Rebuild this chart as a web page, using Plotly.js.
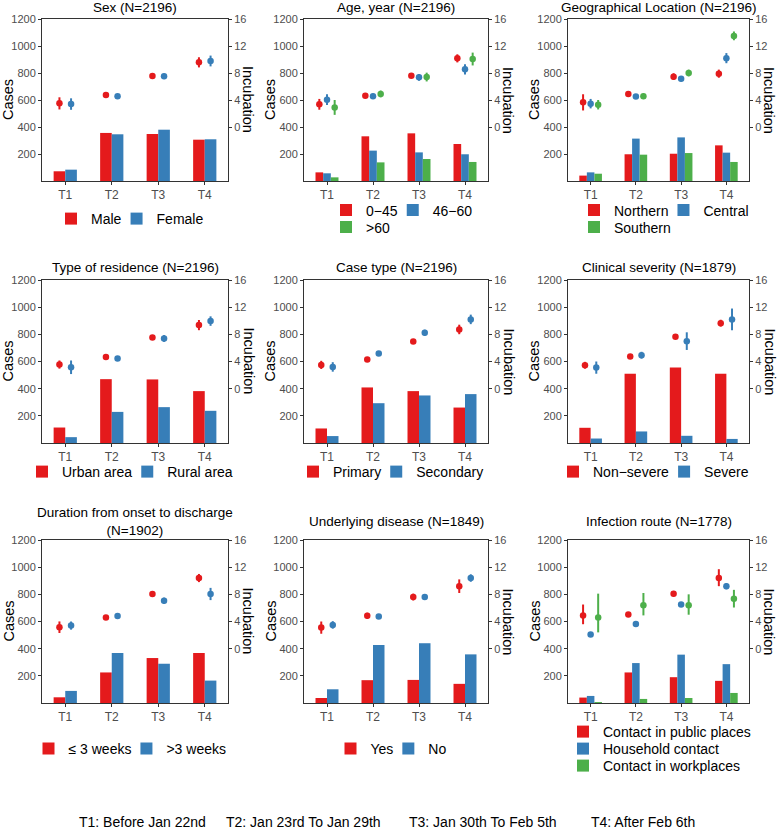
<!DOCTYPE html>
<html><head><meta charset="utf-8">
<script src="https://cdn.plot.ly/plotly-3.0.1.min.js"></script>
<style>body{margin:0;background:#fff;} #chart{width:780px;height:830px;}</style>
</head><body><div id="chart"></div>
<script>
// ---------------- DATA ----------------
const periods = ['T1', 'T2', 'T3', 'T4'];
const periodNotes = ['T1: Before Jan 22nd', 'T2: Jan 23rd To Jan 29th', 'T3: Jan 30th To Feb 5th', 'T4: After Feb 6th'];

const sexTitle = 'Sex (N=2196)';
const sexGroups = ['Male', 'Female'];
const sexCases = [[72, 356, 348, 306], [84, 346, 380, 309]];
const sexInc = [[3.5, 4.74, 7.56, 9.58], [3.4, 4.54, 7.5, 9.78]];
const sexErr = [[0.9, 0.3, 0.4, 0.75], [0.85, 0.25, 0.4, 0.8]];

const ageTitle = 'Age, year (N=2196)';
const ageGroups = ['0\u221245', '46\u221260', '>60'];
const ageCases = [[64, 331, 353, 274], [57, 225, 212, 198], [27, 138, 163, 141]];
const ageInc = [[3.36, 4.64, 7.6, 10.17], [4.05, 4.54, 7.36, 8.54], [2.9, 4.9, 7.4, 10.07]];
const ageErr = [[0.8, 0.2, 0.35, 0.6], [0.8, 0.4, 0.5, 0.75], [1.1, 0.5, 0.65, 0.95]];

const geoTitle = 'Geographical Location (N=2196)';
const geoGroups = ['Northern', 'Central', 'Southern'];
const geoCases = [[40, 198, 202, 264], [64, 314, 323, 210], [54, 195, 207, 141]];
const geoInc = [[3.65, 4.9, 7.46, 7.9], [3.46, 4.5, 7.16, 10.2], [3.3, 4.54, 8.0, 13.5]];
const geoErr = [[1.2, 0.35, 0.5, 0.6], [0.7, 0.3, 0.4, 0.75], [0.7, 0.4, 0.5, 0.65]];

const resTitle = 'Type of residence (N=2196)';
const resGroups = ['Urban area', 'Rural area'];
const resCases = [[114, 470, 468, 382], [43, 229, 264, 237]];
const resInc = [[3.55, 4.68, 7.54, 9.36], [3.15, 4.43, 7.39, 9.95]];
const resErr = [[0.6, 0.2, 0.3, 0.75], [1.0, 0.35, 0.5, 0.7]];

const typeTitle = 'Case type (N=2196)';
const typeGroups = ['Primary', 'Secondary'];
const typeCases = [[107, 409, 382, 261], [51, 293, 350, 360]];
const typeInc = [[3.5, 4.29, 6.95, 8.72], [3.2, 5.17, 8.23, 10.2]];
const typeErr = [[0.6, 0.15, 0.35, 0.7], [0.7, 0.35, 0.45, 0.7]];

const sevTitle = 'Clinical severity (N=1879)';
const sevGroups = ['Non\u2212severe', 'Severe'];
const sevCases = [[112, 510, 556, 510], [33, 85, 53, 30]];
const sevInc = [[3.45, 4.73, 7.64, 9.65], [3.1, 4.93, 7.0, 10.2]];
const sevErr = [[0.5, 0.15, 0.25, 0.5], [0.9, 0.5, 1.3, 1.6]];

const durTitle = 'Duration from onset to discharge<br>(N=1902)';
const durGroups = ['\u2264 3 weeks', '>3 weeks'];
const durCases = [[42, 225, 331, 368], [89, 368, 289, 165]];
const durInc = [[3.16, 4.6, 8.05, 10.4], [3.4, 4.8, 7.06, 8.05]];
const durErr = [[0.85, 0.3, 0.4, 0.6], [0.6, 0.25, 0.45, 0.9]];

const disTitle = 'Underlying disease (N=1849)';
const disGroups = ['Yes', 'No'];
const disCases = [[37, 168, 170, 141], [101, 427, 440, 358]];
const disInc = [[3.1, 4.84, 7.6, 9.2], [3.5, 4.74, 7.6, 10.4]];
const disErr = [[0.9, 0.45, 0.5, 1.0], [0.55, 0.25, 0.3, 0.55]];

const routeTitle = 'Infection route (N=1778)';
const routeGroups = ['Contact in public places', 'Household contact', 'Contact in workplaces'];
const routeCases = [[40, 225, 190, 163], [52, 294, 356, 286], [7, 30, 37, 74]];
const routeInc = [[4.9, 5.04, 8.1, 10.4], [2.07, 3.65, 6.5, 9.2], [4.6, 6.4, 6.4, 7.36]];
const routeErrUp = [[1.6, 0.35, 0.4, 1.3], [0.15, 0.15, 0.25, 0.45], [3.5, 1.8, 1.6, 1.3]];
const routeErrDown = [[1.3, 0.35, 0.4, 1.2], [0.15, 0.15, 0.25, 0.45], [2.2, 1.5, 1.4, 1.3]];

const casesTicks = [200, 400, 600, 800, 1000, 1200];
const incTicks = [0, 4, 8, 12, 16];

// ---------------- PANEL TABLE ----------------
const panels = [
  {title: sexTitle, groups: sexGroups, cases: sexCases, inc: sexInc, up: sexErr, down: sexErr},
  {title: ageTitle, groups: ageGroups, cases: ageCases, inc: ageInc, up: ageErr, down: ageErr},
  {title: geoTitle, groups: geoGroups, cases: geoCases, inc: geoInc, up: geoErr, down: geoErr},
  {title: resTitle, groups: resGroups, cases: resCases, inc: resInc, up: resErr, down: resErr},
  {title: typeTitle, groups: typeGroups, cases: typeCases, inc: typeInc, up: typeErr, down: typeErr},
  {title: sevTitle, groups: sevGroups, cases: sevCases, inc: sevInc, up: sevErr, down: sevErr},
  {title: durTitle, groups: durGroups, cases: durCases, inc: durInc, up: durErr, down: durErr},
  {title: disTitle, groups: disGroups, cases: disCases, inc: disInc, up: disErr, down: disErr},
  {title: routeTitle, groups: routeGroups, cases: routeCases, inc: routeInc, up: routeErrUp, down: routeErrDown}
];

// ---------------- LAYOUT (pixels) ----------------
const W = 780, H = 830;
const colL = [42, 304, 568], colR = [228, 488, 749];
const rowT = [19, 280, 540], rowB = [181, 443, 703];
const titleY = [7, 267, 521];
const legendY = [219, 472, 749];
// legend rows per panel: each inner list is one row of entries (group indices)
const legendRows = [[[0, 1]], [[0, 1], [2]], [[0, 1], [2]], [[0, 1]], [[0, 1]], [[0, 1]], [[0, 1]], [[0, 1]], [[0], [1], [2]]];
const legendLeft = {1: 336, 2: 584, 8: 573};
const legendRowGap = 17;
const colors = ['#E41A1C', '#377EB8', '#4DAF4A'];
const FONT = 'Liberation Sans, Arial, Helvetica, sans-serif';
const axisLine = '#333333';
const tickGrey = '#4d4d4d';

const px = v => v / W;
const py = v => 1 - v / H;
const sfx = n => (n === 1 ? '' : String(n));

const traces = [];
const layout = {
  width: W, height: H,
  margin: {l: 0, r: 0, t: 0, b: 0},
  paper_bgcolor: '#ffffff', plot_bgcolor: '#ffffff',
  font: {family: FONT, color: '#000'},
  barmode: 'group', bargap: 0.5, bargroupgap: 0,
  scattermode: 'group', scattergap: 0.5,
  showlegend: true,
  annotations: []
};

let legendCount = 0;
function newLegend(cfg) {
  legendCount += 1;
  const id = 'legend' + sfx(legendCount);
  layout[id] = Object.assign({
    font: {family: FONT, size: 14, color: '#000'},
    bgcolor: 'rgba(0,0,0,0)', borderwidth: 0,
    itemclick: false, itemdoubleclick: false,
    orientation: 'h', yanchor: 'middle', tracegroupgap: 0,
    indentation: -10
  }, cfg);
  return id;
}

panels.forEach((p, i) => {
  const r = Math.floor(i / 3), c = i % 3;
  const xi = i + 1, yi = i + 1, y2i = i + 10;
  const xName = 'x' + sfx(xi), yName = 'y' + sfx(yi), y2Name = 'y' + y2i;
  const cx = (colL[c] + colR[c]) / 2;
  const cy = (rowT[r] + rowB[r]) / 2;

  layout['xaxis' + sfx(xi)] = {
    domain: [px(colL[c]), px(colR[c])], anchor: yName,
    type: 'category', range: [-0.5, 3.5],
    showline: true, mirror: true, linecolor: axisLine, linewidth: 1,
    ticks: 'outside', ticklen: 3, tickcolor: axisLine,
    tickfont: {family: FONT, size: 12, color: tickGrey},
    showgrid: false, zeroline: false, fixedrange: true
  };
  layout['yaxis' + sfx(yi)] = {
    domain: [py(rowB[r]), py(rowT[r])], anchor: xName,
    range: [0, 1200], tickvals: casesTicks,
    showline: true, linecolor: axisLine, linewidth: 1,
    ticks: 'outside', ticklen: 3, tickcolor: axisLine,
    tickfont: {family: FONT, size: 11, color: tickGrey},
    showgrid: false, zeroline: false, fixedrange: true
  };
  layout['yaxis' + y2i] = {
    overlaying: yName, side: 'right', anchor: xName,
    range: [-8, 16], tickvals: incTicks,
    showline: true, linecolor: axisLine, linewidth: 1,
    ticks: 'outside', ticklen: 3, tickcolor: axisLine,
    tickfont: {family: FONT, size: 11, color: tickGrey},
    showgrid: false, zeroline: false, fixedrange: true
  };

  // legends (one plotly legend per visual row)
  const rows = legendRows[i];
  const legendOf = [];
  rows.forEach((row, ri) => {
    const yc = legendY[r] + (ri - (rows.length - 1) / 2) * legendRowGap;
    const cfg = rows.length === 1
      ? {x: px(cx), xanchor: 'center', y: py(yc)}
      : {x: px(legendLeft[i]), xanchor: 'left', y: py(yc)};
    const id = newLegend(cfg);
    row.forEach(k => { legendOf[k] = id; });
  });

  p.groups.forEach((g, k) => {
    traces.push({
      type: 'bar', x: periods, y: p.cases[k], name: g,
      xaxis: xName, yaxis: yName,
      marker: {color: colors[k], line: {width: 0}},
      legend: legendOf[k], showlegend: true, hoverinfo: 'skip'
    });
  });
  p.groups.forEach((g, k) => {
    traces.push({
      type: 'scatter', mode: 'markers', x: periods, y: p.inc[k], name: g,
      xaxis: xName, yaxis: y2Name,
      marker: {color: colors[k], size: 6.5},
      error_y: {type: 'data', symmetric: false, array: p.up[k], arrayminus: p.down[k],
                color: colors[k], thickness: 2, width: 0},
      showlegend: false, hoverinfo: 'skip'
    });
  });

  // titles
  layout.annotations.push({
    text: p.title, xref: 'paper', yref: 'paper', x: px(cx), y: py(titleY[r]),
    xanchor: 'center', yanchor: 'middle', showarrow: false,
    font: {family: FONT, size: 13.5, color: '#000'}
  });
  layout.annotations.push({
    text: 'Cases', xref: 'paper', yref: 'paper', x: px(colL[c] - 34), y: py(cy),
    xanchor: 'center', yanchor: 'middle', showarrow: false, textangle: -90,
    font: {family: FONT, size: 14.5, color: '#000'}
  });
  layout.annotations.push({
    text: 'Incubation', xref: 'paper', yref: 'paper', x: px(colR[c] + 20), y: py(cy),
    xanchor: 'center', yanchor: 'middle', showarrow: false, textangle: 90,
    font: {family: FONT, size: 14.5, color: '#000'}
  });
});

const noteX = [142, 303, 483, 643];
periodNotes.forEach((t, k) => {
  layout.annotations.push({
    text: t, xref: 'paper', yref: 'paper', x: px(noteX[k]), y: py(822),
    xanchor: 'center', yanchor: 'middle', showarrow: false,
    font: {family: FONT, size: 14, color: '#000'}
  });
});

Plotly.newPlot('chart', traces, layout, {staticPlot: true, displayModeBar: false});
</script>
</body></html>
